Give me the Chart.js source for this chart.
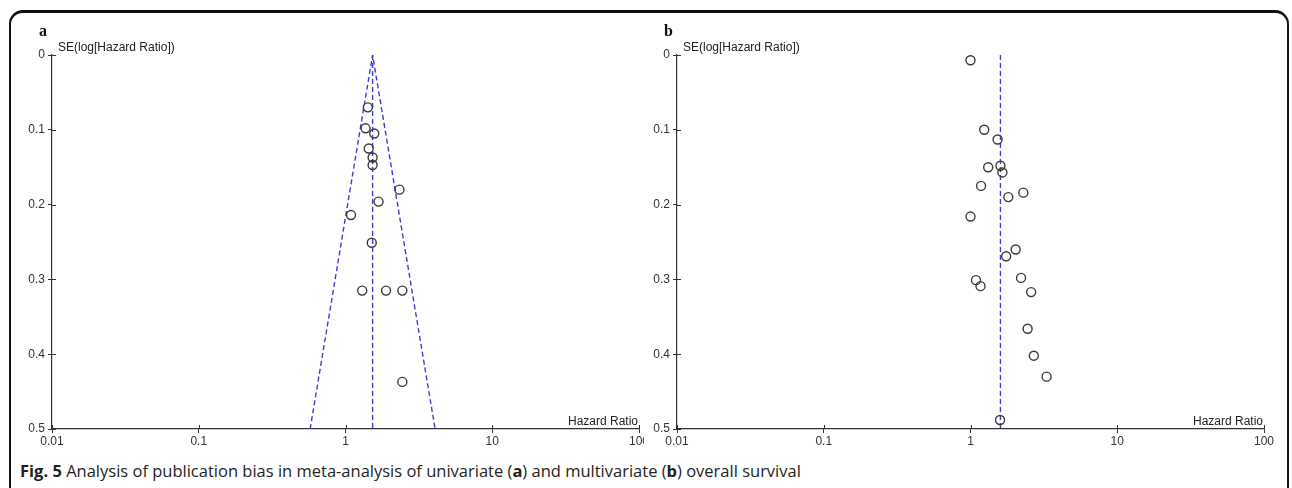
<!DOCTYPE html>
<html>
<head>
<meta charset="utf-8">
<script src="https://cdn.jsdelivr.net/npm/chart.js@4.4.1/dist/chart.umd.min.js"></script>
<style>
  body { margin: 0; width: 1292px; height: 488px; background: #fff; position: relative; overflow: hidden; }
  #frame { position: absolute; left: 9px; top: 10px; width: 1280px; height: 520px; border: 2px solid #111;
           border-top-width: 3px; border-radius: 14px; box-sizing: border-box; z-index: 3; pointer-events: none; }
  #cA { position: absolute; left: 0; top: 0; }
  #cB { position: absolute; left: 644px; top: 0; }
  .tag { position: absolute; font-family: "Liberation Serif", serif; font-weight: bold; font-size: 16px; color: #111; z-index: 2; }
  #caption { position: absolute; left: 20px; top: 459px; font-family: "Open Sans", sans-serif; font-size: 16.5px;
             color: #231f20; z-index: 2; white-space: nowrap; }
</style>
</head>
<body>
<div id="frame"></div>
<canvas id="cA" width="660" height="450"></canvas>
<canvas id="cB" width="648" height="450"></canvas>
<div class="tag" style="left:39px;top:22px">a</div>
<div class="tag" style="left:664px;top:22px">b</div>
<div id="caption"><b>Fig. 5</b> Analysis of publication bias in meta-analysis of univariate (<b>a</b>) and multivariate (<b>b</b>) overall survival</div>

<script>
// panel a: univariate OS
const hrA = [1.42, 1.37, 1.57, 1.44, 1.53, 1.53, 2.33, 1.68, 1.09, 1.51, 1.30, 1.89, 2.44, 2.44];
const seA = [0.070, 0.098, 0.105, 0.125, 0.137, 0.147, 0.180, 0.196, 0.214, 0.251, 0.315, 0.315, 0.315, 0.437];
const pooledA = 1.53;
const funnelHrA = [0.574, 1.53, 4.08];
const funnelSeA = [0.5, 0, 0.5];

// panel b: multivariate OS
const hrB = [1.00, 1.24, 1.53, 1.32, 1.60, 1.65, 1.18, 2.29, 1.81, 1.00, 2.03, 1.75, 1.09, 1.17, 2.21, 2.59, 2.45, 2.70, 3.30, 1.59];
const seB = [0.007, 0.100, 0.113, 0.150, 0.148, 0.157, 0.175, 0.184, 0.190, 0.216, 0.260, 0.269, 0.301, 0.309, 0.298, 0.317, 0.366, 0.402, 0.430, 0.488];
const pooledB = 1.60;

const xTicks = [0.01, 0.1, 1, 10, 100];
const seRange = [0, 0.5];

const AXIS = "#333";
const DASH = "#3c3cd8";
const FONT = { family: "Liberation Sans", size: 12 };

const decoracao = {
  id: "decoracao",
  beforeDraw(chart) {
    const ctx = chart.ctx;
    ctx.save();
    ctx.fillStyle = "#fff";
    ctx.fillRect(0, 0, chart.width, chart.height);
    ctx.restore();
  },
  afterDraw(chart) {
    const { ctx, chartArea } = chart;
    const x = chart.scales.x;
    const y = chart.scales.y;
    ctx.save();
    ctx.strokeStyle = AXIS;
    ctx.lineWidth = 1;
    ctx.beginPath();
    x.ticks.forEach((t) => {
      const px = Math.round(x.getPixelForValue(t.value)) + 0.5;
      ctx.moveTo(px, chartArea.bottom);
      ctx.lineTo(px, chartArea.bottom - 4);
    });
    y.ticks.forEach((t) => {
      const py = Math.round(y.getPixelForValue(t.value)) + 0.5;
      ctx.moveTo(chartArea.left, py);
      ctx.lineTo(chartArea.left + 4, py);
    });
    ctx.stroke();

    ctx.fillStyle = "#222";
    ctx.font = '12px "Liberation Sans"';
    ctx.textBaseline = "middle";
    ctx.textAlign = "left";
    ctx.fillText("SE(log[Hazard Ratio])", chartArea.left + 6, chartArea.top - 7);
    ctx.textAlign = "right";
    ctx.fillText("Hazard Ratio", chartArea.right - 1, chartArea.bottom - 7);
    ctx.restore();
  },
};

function criarPainel(id, hr, se, linhas, yWidth, padRight) {
  const pontos = hr.map((v, i) => ({ x: v, y: se[i] }));
  const datasets = [
    {
      data: pontos,
      order: 0,
      pointRadius: 4.5,
      pointBorderWidth: 1.4,
      pointBorderColor: "#3a3a3a",
      pointBackgroundColor: "rgba(0,0,0,0)",
    },
  ];
  linhas.forEach((l) => {
    datasets.push({
      data: l,
      order: 1,
      showLine: true,
      borderColor: DASH,
      borderWidth: 1.4,
      borderDash: [5, 3],
      pointRadius: 0,
      fill: false,
    });
  });

  return new Chart(document.getElementById(id), {
    type: "scatter",
    data: { datasets },
    options: {
      responsive: false,
      animation: false,
      devicePixelRatio: 1,
      events: [],
      layout: { padding: { top: 55, right: padRight, bottom: 0, left: 0 } },
      plugins: { legend: { display: false }, tooltip: { enabled: false } },
      scales: {
        x: {
          type: "logarithmic",
          min: xTicks[0],
          max: xTicks[xTicks.length - 1],
          afterBuildTicks: (s) => {
            s.ticks = xTicks.map((v) => ({ value: v }));
          },
          afterFit: (s) => {
            s.height = 21;
          },
          ticks: {
            autoSkip: false,
            maxRotation: 0,
            padding: 1,
            color: AXIS,
            font: FONT,
            callback: (v) => String(v),
          },
          grid: { drawOnChartArea: false, tickLength: 4, tickColor: AXIS },
          border: { color: AXIS, width: 1.2 },
        },
        y: {
          reverse: true,
          min: seRange[0],
          max: seRange[1],
          afterFit: (s) => {
            s.width = yWidth;
          },
          ticks: { stepSize: 0.1, padding: 3, color: AXIS, font: FONT },
          grid: { drawOnChartArea: false, tickLength: 4, tickColor: AXIS },
          border: { color: AXIS, width: 1.2 },
        },
      },
    },
    plugins: [decoracao],
  });
}

criarPainel(
  "cA",
  hrA,
  seA,
  [
    funnelHrA.map((v, i) => ({ x: v, y: funnelSeA[i] })),
    seRange.map((s) => ({ x: pooledA, y: s })),
  ],
  52,
  21
);

criarPainel("cB", hrB, seB, [seRange.map((s) => ({ x: pooledB, y: s }))], 33, 28);
</script>
</body>
</html>
